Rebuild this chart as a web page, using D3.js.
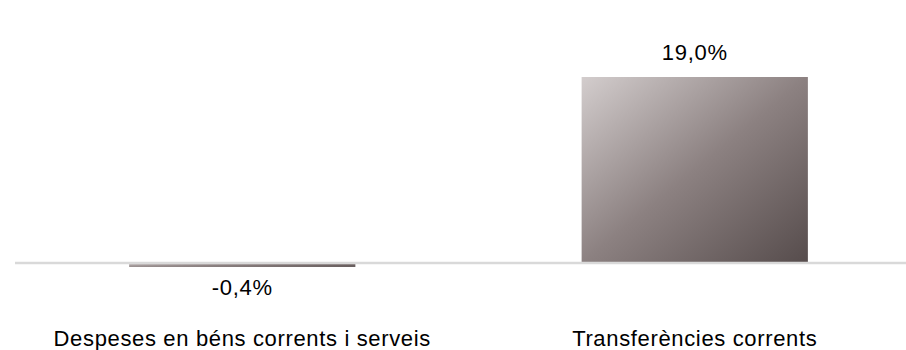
<!DOCTYPE html>
<html><head><meta charset="utf-8">
<script src="https://cdn.jsdelivr.net/npm/d3@7"></script>
<style>html,body{margin:0;padding:0;background:#fff;overflow:hidden}</style>
</head><body>
<svg id="chart" width="906" height="350"></svg>
<script>
const categories = ["Despeses en béns corrents i serveis", "Transferències corrents"];
const values = [-0.4, 19.0];
const valueLabels = ["-0,4%", "19,0%"];

const svg = d3.select("#chart");
const font = "'Liberation Sans', Arial, sans-serif";

const x = d3.scaleBand().domain(categories).range([16, 921]).paddingInner(0.5).paddingOuter(0.25);
const y = d3.scaleLinear().domain([0, 19]).range([263, 77]);

const defs = svg.append("defs");
const g = defs.append("linearGradient").attr("id", "grad")
  .attr("x1", 0).attr("y1", 0).attr("x2", 1).attr("y2", 1);
g.append("stop").attr("offset", "0%").attr("stop-color", "#d3cdcd");
g.append("stop").attr("offset", "50%").attr("stop-color", "#8c8181");
g.append("stop").attr("offset", "100%").attr("stop-color", "#564c4c");

svg.selectAll("rect.bar").data(values).enter().append("rect")
  .attr("class", "bar")
  .attr("x", (d, i) => x(categories[i]))
  .attr("width", x.bandwidth())
  .attr("y", d => y(Math.max(0, d)))
  .attr("height", d => Math.abs(y(d) - y(0)))
  .attr("fill", "url(#grad)");

// zero axis line
svg.append("line")
  .attr("x1", 15).attr("x2", 906)
  .attr("y1", y(0)).attr("y2", y(0))
  .attr("stroke", "#d9d9d9").attr("stroke-width", 2.5);

// value labels
svg.selectAll("text.val").data(values).enter().append("text")
  .attr("class", "val")
  .attr("x", (d, i) => x(categories[i]) + x.bandwidth() / 2)
  .attr("y", d => d >= 0 ? y(d) - 17 : y(d) + 28)
  .attr("text-anchor", "middle")
  .attr("font-family", font).attr("font-size", 22)
  .attr("letter-spacing", 0.75)
  .attr("fill", "#000")
  .text((d, i) => valueLabels[i]);

// category labels
svg.selectAll("text.cat").data(categories).enter().append("text")
  .attr("class", "cat")
  .attr("x", d => x(d) + x.bandwidth() / 2)
  .attr("y", 346)
  .attr("text-anchor", "middle")
  .attr("font-family", font).attr("font-size", 22)
  .attr("letter-spacing", 0.65)
  .attr("fill", "#000")
  .text(d => d);
</script>
</body></html>
